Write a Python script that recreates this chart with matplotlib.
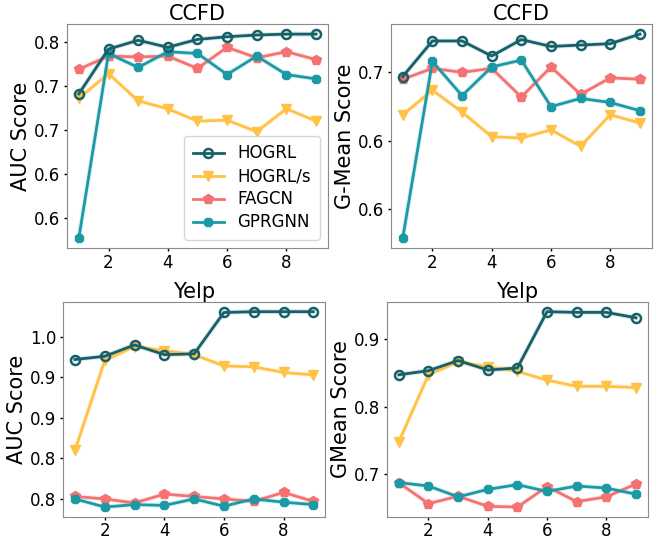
import numpy as np
import matplotlib
matplotlib.use("Agg")
import matplotlib.pyplot as plt
from matplotlib.ticker import FormatStrFormatter

x = [1, 2, 3, 4, 5, 6, 7, 8, 9]
names = ["HOGRL", "HOGRL/s", "FAGCN", "GPRGNN"]

# CCFD - AUC
ccfd_auc_hogrl = [0.691, 0.742, 0.752, 0.744, 0.753, 0.756, 0.758, 0.759, 0.759]
ccfd_auc_hogrls = [0.686, 0.714, 0.683, 0.674, 0.660, 0.661, 0.648, 0.674, 0.660]
ccfd_auc_fagcn = [0.719, 0.734, 0.733, 0.734, 0.720, 0.744, 0.732, 0.739, 0.730]
ccfd_auc_gprgnn = [0.527, 0.737, 0.721, 0.739, 0.737, 0.713, 0.734, 0.713, 0.708]

# CCFD - G-Mean
ccfd_gm_hogrl = [0.647, 0.673, 0.673, 0.662, 0.674, 0.669, 0.670, 0.671, 0.678]
ccfd_gm_hogrls = [0.619, 0.637, 0.621, 0.603, 0.602, 0.608, 0.596, 0.619, 0.613]
ccfd_gm_fagcn = [0.645, 0.653, 0.650, 0.653, 0.632, 0.654, 0.634, 0.646, 0.645]
ccfd_gm_gprgnn = [0.529, 0.658, 0.633, 0.654, 0.659, 0.625, 0.631, 0.628, 0.622]

# Yelp - AUC
yelp_auc_hogrl = [0.972, 0.976, 0.990, 0.978, 0.979, 1.030, 1.031, 1.031, 1.031]
yelp_auc_hogrls = [0.860, 0.971, 0.988, 0.983, 0.978, 0.964, 0.963, 0.956, 0.953]
yelp_auc_fagcn = [0.803, 0.800, 0.795, 0.806, 0.803, 0.800, 0.797, 0.808, 0.797]
yelp_auc_gprgnn = [0.800, 0.790, 0.793, 0.792, 0.800, 0.791, 0.800, 0.796, 0.793]

# Yelp - GMean
yelp_gm_hogrl = [0.847, 0.853, 0.868, 0.854, 0.857, 0.940, 0.939, 0.939, 0.931]
yelp_gm_hogrls = [0.748, 0.847, 0.866, 0.859, 0.852, 0.839, 0.830, 0.830, 0.828]
yelp_gm_fagcn = [0.688, 0.657, 0.668, 0.653, 0.652, 0.682, 0.660, 0.667, 0.686]
yelp_gm_gprgnn = [0.688, 0.683, 0.667, 0.678, 0.685, 0.675, 0.683, 0.680, 0.671]

colors = ["#16606a", "#ffc247", "#f47272", "#1b9aa6"]
markers = ["o", "v", "p", "8"]

fig = plt.figure(figsize=(6.57, 5.44), dpi=100)

panels = [
    ([0.102, 0.544, 0.397, 0.412], "CCFD", "AUC Score",
     [ccfd_auc_hogrl, ccfd_auc_hogrls, ccfd_auc_fagcn, ccfd_auc_gprgnn], [0.55, 0.60, 0.65, 0.70, 0.75]),
    ([0.595, 0.544, 0.397, 0.412], "CCFD", "G-Mean Score",
     [ccfd_gm_hogrl, ccfd_gm_hogrls, ccfd_gm_fagcn, ccfd_gm_gprgnn], [0.55, 0.60, 0.65]),
    ([0.096, 0.050, 0.399, 0.395], "Yelp", "AUC Score",
     [yelp_auc_hogrl, yelp_auc_hogrls, yelp_auc_fagcn, yelp_auc_gprgnn], [0.80, 0.85, 0.90, 0.95, 1.00]),
    ([0.589, 0.050, 0.397, 0.395], "Yelp", "GMean Score",
     [yelp_gm_hogrl, yelp_gm_hogrls, yelp_gm_fagcn, yelp_gm_gprgnn], [0.7, 0.8, 0.9]),
]

for k, (pos, title, ylabel, series, yt) in enumerate(panels):
    ax = fig.add_axes(pos)
    for i in range(4):
        c = colors[i]
        # faint wide line behind for the soft glow
        ax.plot(x, series[i], color=c, lw=3.5, alpha=0.15, zorder=2)
        if i == 0:
            ax.plot(x, series[i], color=c, lw=2, marker="o", markersize=6.5,
                    markerfacecolor="none", markeredgewidth=1.8, label=names[i], zorder=4)
        else:
            ax.plot(x, series[i], color=c, lw=2, marker=markers[i], markersize=7,
                    label=names[i], zorder=3)
    ax.set_title(title, fontsize=15, pad=3)
    ax.set_ylabel(ylabel, fontsize=15, labelpad=2)
    ax.set_xticks([2, 4, 6, 8])
    ax.set_yticks(yt)
    ax.yaxis.set_major_formatter(FormatStrFormatter('%.1f'))
    ax.tick_params(labelsize=12, length=2.5, width=1, pad=2.5)
    ax.tick_params(axis="x", pad=1.5)
    for s in ax.spines.values():
        s.set_color("#8a8a8a")
    if k == 0:
        ax.legend(loc="lower right", fontsize=12, handlelength=1.9, borderpad=0.5,
                  labelspacing=0.3, handletextpad=0.8)

fig.savefig("out.png", dpi=100)
